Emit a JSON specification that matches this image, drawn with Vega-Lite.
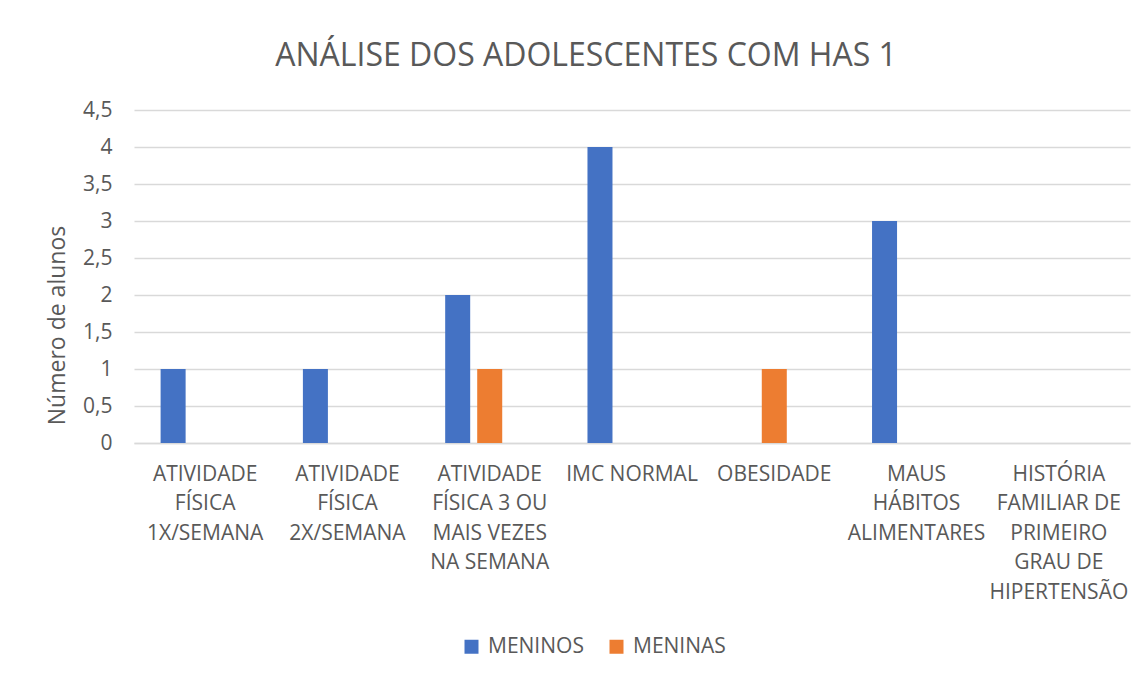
{
  "$schema": "https://vega.github.io/schema/vega-lite/v6.json",
  "autosize": {"type": "none"},
  "width": 996,
  "height": 333,
  "padding": {"left": 134, "top": 110, "right": 17, "bottom": 234},
  "background": "white",
  "title": {
    "text": "ANÁLISE DOS ADOLESCENTES COM HAS 1",
    "font": "Open Sans",
    "fontSize": 32,
    "fontWeight": "normal",
    "color": "#595959",
    "anchor": "middle",
    "dx": -46,
    "offset": 26
  },
  "data": {
    "values": [
      {"categoria": "ATIVIDADE\nFÍSICA\n1X/SEMANA", "serie": "MENINOS", "alunos": 1},
      {"categoria": "ATIVIDADE\nFÍSICA\n1X/SEMANA", "serie": "MENINAS", "alunos": 0},
      {"categoria": "ATIVIDADE\nFÍSICA\n2X/SEMANA", "serie": "MENINOS", "alunos": 1},
      {"categoria": "ATIVIDADE\nFÍSICA\n2X/SEMANA", "serie": "MENINAS", "alunos": 0},
      {"categoria": "ATIVIDADE\nFÍSICA 3 OU\nMAIS VEZES\nNA SEMANA", "serie": "MENINOS", "alunos": 2},
      {"categoria": "ATIVIDADE\nFÍSICA 3 OU\nMAIS VEZES\nNA SEMANA", "serie": "MENINAS", "alunos": 1},
      {"categoria": "IMC NORMAL", "serie": "MENINOS", "alunos": 4},
      {"categoria": "IMC NORMAL", "serie": "MENINAS", "alunos": 0},
      {"categoria": "OBESIDADE", "serie": "MENINOS", "alunos": 0},
      {"categoria": "OBESIDADE", "serie": "MENINAS", "alunos": 1},
      {"categoria": "MAUS\nHÁBITOS\nALIMENTARES", "serie": "MENINOS", "alunos": 3},
      {"categoria": "MAUS\nHÁBITOS\nALIMENTARES", "serie": "MENINAS", "alunos": 0},
      {"categoria": "HISTÓRIA\nFAMILIAR DE\nPRIMEIRO\nGRAU DE\nHIPERTENSÃO", "serie": "MENINOS", "alunos": 0},
      {"categoria": "HISTÓRIA\nFAMILIAR DE\nPRIMEIRO\nGRAU DE\nHIPERTENSÃO", "serie": "MENINAS", "alunos": 0}
    ]
  },
  "mark": {"type": "bar"},
  "encoding": {
    "x": {
      "field": "categoria",
      "type": "nominal",
      "sort": null,
      "scale": {"paddingInner": 0.325, "paddingOuter": 0.1625},
      "axis": {
        "title": null,
        "labelAngle": 0,
        "labelExpr": "split(datum.label, '\\n')",
        "labelFont": "Open Sans",
        "labelFontSize": 21,
        "labelColor": "#595959",
        "labelLineHeight": 29.5,
        "labelPadding": 20,
        "labelBaseline": "top",
        "labelLimit": 0,
        "ticks": false,
        "domain": true,
        "domainColor": "#d9d9d9",
        "domainWidth": 1.5,
        "grid": false
      }
    },
    "xOffset": {
      "field": "serie",
      "type": "nominal",
      "scale": {"domain": ["MENINOS", "MENINAS", "_"], "paddingInner": 0.219, "paddingOuter": 0.109}
    },
    "y": {
      "field": "alunos",
      "type": "quantitative",
      "scale": {"domain": [0, 4.5], "nice": false},
      "axis": {
        "title": "Número de alunos",
        "titleFont": "Open Sans",
        "titleFontSize": 23,
        "titleFontWeight": "normal",
        "titleColor": "#595959",
        "titleX": -77,
        "titleY": 215,
        "titleAngle": -90,
        "titleAlign": "center",
        "titleBaseline": "middle",
        "values": [0, 0.5, 1, 1.5, 2, 2.5, 3, 3.5, 4, 4.5],
        "labelExpr": "replace(format(datum.value, '~g'), '.', ',')",
        "labelFont": "Open Sans",
        "labelFontSize": 21,
        "labelColor": "#595959",
        "labelPadding": 22,
        "ticks": false,
        "domain": false,
        "grid": true,
        "gridColor": "#d9d9d9",
        "gridWidth": 1.5
      }
    },
    "color": {
      "field": "serie",
      "type": "nominal",
      "scale": {"domain": ["MENINOS", "MENINAS"], "range": ["#4472C4", "#ED7D31"]},
      "legend": {
        "title": null,
        "orient": "none",
        "direction": "horizontal",
        "legendX": 327,
        "legendY": 526,
        "symbolType": "square",
        "symbolSize": 196,
        "symbolStrokeWidth": 0,
        "labelFont": "Open Sans",
        "labelFontSize": 21,
        "labelColor": "#595959",
        "labelOffset": 6,
        "columnPadding": 22,
        "padding": 0
      }
    }
  },
  "config": {
    "view": {"stroke": null}
  }
}
